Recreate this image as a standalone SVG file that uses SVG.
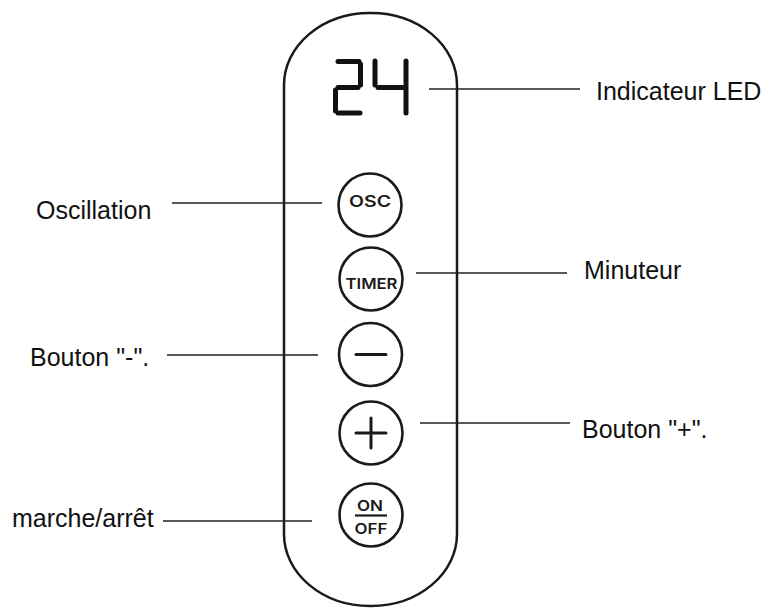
<svg xmlns="http://www.w3.org/2000/svg" width="771" height="612" viewBox="0 0 771 612">
<style>
.bg{fill:#fff}
.body{fill:#fff;stroke:#1a1a1a;stroke-width:2.5}
.btn{fill:#fff;stroke:#1a1a1a;stroke-width:2.6}
.seg{stroke:#111;stroke-width:5;stroke-linecap:round;fill:none}
.sym{stroke:#1a1a1a;stroke-width:3;stroke-linecap:round;fill:none}
.lead{stroke:#222;stroke-width:1.6;fill:none}
.lbl{font-family:"Liberation Sans",Arial,sans-serif;font-size:25px;fill:#111}
.bt{font-family:Inter,"Liberation Sans",sans-serif;font-weight:600;fill:#1a1a1a}
</style>
<rect class="bg" width="771" height="612"/>
<g id="remote">
<rect class="body" x="284" y="13" width="173" height="593" rx="86" ry="72"/>
</g>
<g id="led">
<line class="seg" x1="338" y1="61.5" x2="359" y2="61.5"/>
<line class="seg" x1="360.5" y1="64" x2="360.5" y2="85"/>
<line class="seg" x1="338" y1="87.5" x2="358" y2="87.5"/>
<line class="seg" x1="335.5" y1="90" x2="335.5" y2="111"/>
<line class="seg" x1="338" y1="113" x2="360" y2="113"/>
<line class="seg" x1="375" y1="61" x2="375" y2="85"/>
<line class="seg" x1="378" y1="87.5" x2="403" y2="87.5"/>
<line class="seg" x1="406" y1="61" x2="406" y2="113"/>
</g>
<g id="osc">
<circle class="btn" cx="370" cy="205" r="31.5"/>
<text class="bt" x="370" y="206.5" font-size="15.5" text-anchor="middle" textLength="42" lengthAdjust="spacingAndGlyphs">OSC</text>
</g>
<g id="timer">
<circle class="btn" cx="371" cy="279" r="31.5"/>
<text class="bt" x="371.5" y="288.5" font-size="15" text-anchor="middle" textLength="52" lengthAdjust="spacingAndGlyphs">TIMER</text>
</g>
<g id="minus">
<circle class="btn" cx="370.5" cy="354.5" r="31.5"/>
<line class="sym" x1="356" y1="354.5" x2="386" y2="354.5"/>
</g>
<g id="plus">
<circle class="btn" cx="371" cy="433" r="31.5"/>
<line class="sym" x1="356" y1="433" x2="386" y2="433"/>
<line class="sym" x1="371" y1="418" x2="371" y2="448"/>
</g>
<g id="onoff">
<circle class="btn" cx="371" cy="515" r="31.5"/>
<text class="bt" x="370" y="510.5" font-size="14.5" text-anchor="middle" textLength="26" lengthAdjust="spacingAndGlyphs">ON</text>
<line x1="355" y1="515.5" x2="387" y2="515.5" stroke="#1a1a1a" stroke-width="2.2"/>
<text class="bt" x="371" y="533.5" font-size="14.5" text-anchor="middle" textLength="33" lengthAdjust="spacingAndGlyphs">OFF</text>
</g>
<g id="connectors">
<line class="lead" x1="429" y1="89" x2="580" y2="89"/>
<line class="lead" x1="172" y1="203" x2="322" y2="203"/>
<line class="lead" x1="416" y1="273" x2="567" y2="273"/>
<line class="lead" x1="167" y1="355" x2="318" y2="355"/>
<line class="lead" x1="420" y1="423" x2="570" y2="423"/>
<line class="lead" x1="163" y1="521" x2="312" y2="521"/>
</g>
<g id="labels">
<text class="lbl" x="596" y="100">Indicateur LED</text>
<text class="lbl" x="36" y="219">Oscillation</text>
<text class="lbl" x="584" y="279">Minuteur</text>
<text class="lbl" x="30" y="366">Bouton "-".</text>
<text class="lbl" x="582" y="438">Bouton "+".</text>
<text class="lbl" x="12" y="527">marche/arrêt</text>
</g>
</svg>
